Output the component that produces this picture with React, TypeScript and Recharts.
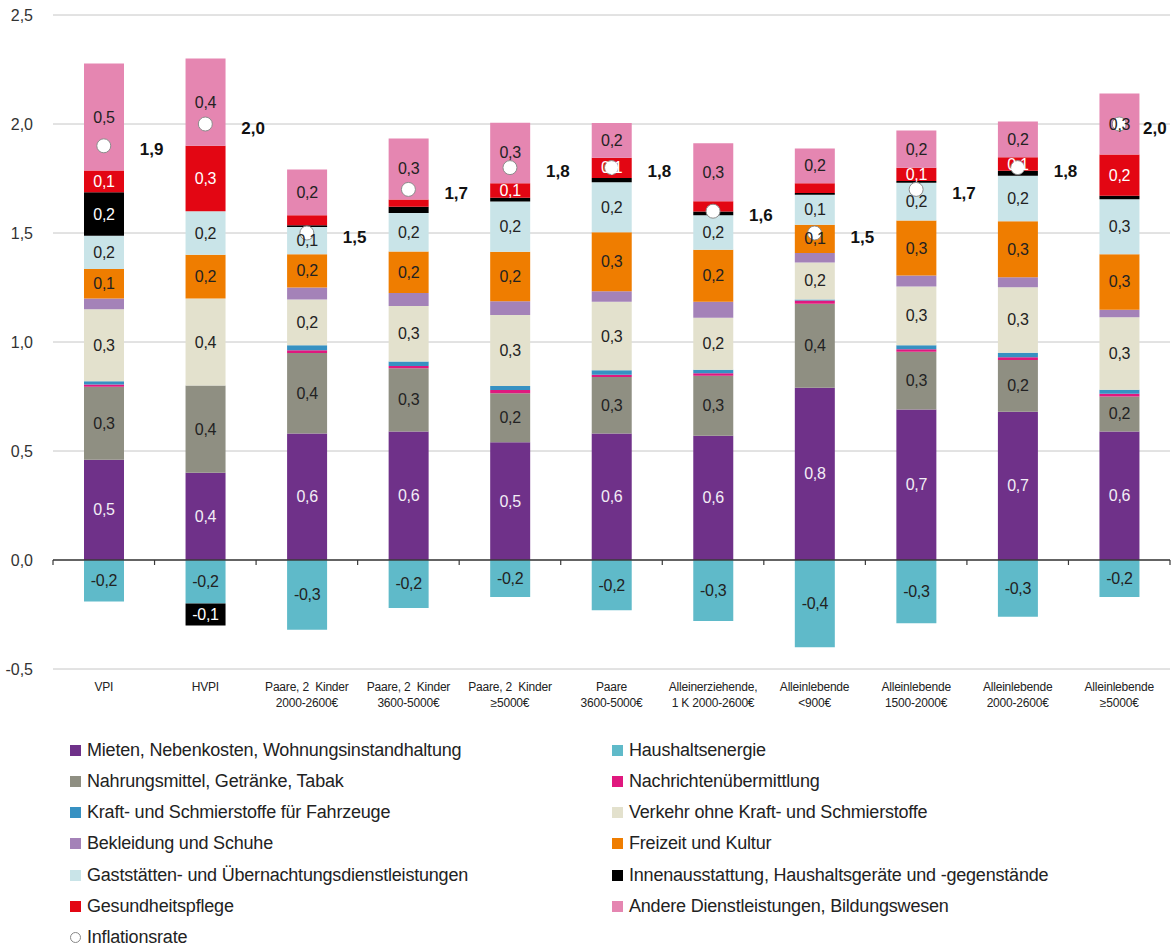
import React from "react";
import {
  ComposedChart,
  Bar,
  Line,
  XAxis,
  YAxis,
  CartesianGrid,
  ReferenceLine,
  LabelList,
} from "recharts";

document.body.style.margin = "0";

const NARROW = '"Liberation Sans Narrow", "Arial Narrow", "Liberation Sans", Arial, sans-serif';
const SANS = '"Liberation Sans", Arial, sans-serif';

const categories = [
  "VPI",
  "HVPI",
  "Paare, 2  Kinder\n2000-2600€",
  "Paare, 2  Kinder\n3600-5000€",
  "Paare, 2  Kinder\n≥5000€",
  "Paare\n3600-5000€",
  "Alleinerziehende,\n1 K 2000-2600€",
  "Alleinlebende\n<900€",
  "Alleinlebende\n1500-2000€",
  "Alleinlebende\n2000-2600€",
  "Alleinlebende\n≥5000€",
];

const mieten = [0.46, 0.4, 0.58, 0.59, 0.54, 0.58, 0.57, 0.79, 0.69, 0.68, 0.59];
const nahrung = [0.335, 0.4, 0.37, 0.29, 0.225, 0.26, 0.275, 0.385, 0.265, 0.237, 0.16];
const nachricht = [0.01, 0, 0.012, 0.01, 0.015, 0.01, 0.012, 0.015, 0.012, 0.013, 0.013];
const kraft = [0.015, 0, 0.023, 0.02, 0.018, 0.02, 0.016, 0.005, 0.018, 0.021, 0.018];
const verkehr = [0.33, 0.4, 0.21, 0.255, 0.326, 0.315, 0.238, 0.17, 0.27, 0.3, 0.332];
const bekleidung = [0.05, 0, 0.055, 0.06, 0.063, 0.048, 0.074, 0.043, 0.05, 0.046, 0.035];
const freizeit = [0.135, 0.2, 0.152, 0.19, 0.227, 0.27, 0.238, 0.13, 0.252, 0.257, 0.255];
const gaststaetten = [0.152, 0.2, 0.126, 0.177, 0.23, 0.23, 0.158, 0.137, 0.174, 0.209, 0.252];
const energie = [-0.19, -0.2, -0.32, -0.22, -0.17, -0.23, -0.28, -0.4, -0.29, -0.26, -0.17];
const innen = [0.2, -0.1, 0.008, 0.028, 0.018, 0.019, 0.018, 0.008, 0.008, 0.023, 0.016];
const gesundheit = [0.1, 0.3, 0.045, 0.034, 0.066, 0.093, 0.047, 0.045, 0.06, 0.061, 0.189];
const andere = [0.49, 0.4, 0.21, 0.28, 0.278, 0.16, 0.266, 0.16, 0.171, 0.164, 0.28];
const inflation = [1.9, 2.0, 1.5, 1.7, 1.8, 1.8, 1.6, 1.5, 1.7, 1.8, 2.0];

const yTicks = [-0.5, 0, 0.5, 1, 1.5, 2, 2.5];

// stacking order, bottom to top
const series = [
  { key: "mieten", name: "Mieten, Nebenkosten, Wohnungsinstandhaltung", values: mieten, color: "#6f3189", text: "#f3eef6", labels: true },
  { key: "nahrung", name: "Nahrungsmittel, Getränke, Tabak", values: nahrung, color: "#8f8f82", text: "#222", labels: true },
  { key: "nachricht", name: "Nachrichtenübermittlung", values: nachricht, color: "#e0187e", text: "#222", labels: false },
  { key: "kraft", name: "Kraft- und Schmierstoffe für Fahrzeuge", values: kraft, color: "#3791c2", text: "#222", labels: false },
  { key: "verkehr", name: "Verkehr ohne Kraft- und Schmierstoffe", values: verkehr, color: "#e3e1cd", text: "#222", labels: true },
  { key: "bekleidung", name: "Bekleidung und Schuhe", values: bekleidung, color: "#a482b8", text: "#222", labels: false },
  { key: "freizeit", name: "Freizeit und Kultur", values: freizeit, color: "#ef7d00", text: "#222", labels: true },
  { key: "gaststaetten", name: "Gaststätten- und Übernachtungsdienstleistungen", values: gaststaetten, color: "#c9e4e8", text: "#222", labels: true },
  { key: "energie", name: "Haushaltsenergie", values: energie, color: "#5fbac9", text: "#222", labels: true },
  { key: "innen", name: "Innenausstattung, Haushaltsgeräte und -gegenstände", values: innen, color: "#000000", text: "#fff", labels: true },
  { key: "gesundheit", name: "Gesundheitspflege", values: gesundheit, color: "#e30613", text: "#fff", labels: true },
  { key: "andere", name: "Andere Dienstleistungen, Bildungswesen", values: andere, color: "#e586b1", text: "#222", labels: true },
];

const legendOrder = [
  ["mieten", "energie"],
  ["nahrung", "nachricht"],
  ["kraft", "verkehr"],
  ["bekleidung", "freizeit"],
  ["gaststaetten", "innen"],
  ["gesundheit", "andere"],
];

const data = categories.map((name, i) => {
  const row: Record<string, any> = { name, inflation: inflation[i] };
  series.forEach((s) => (row[s.key] = s.values[i]));
  return row;
});

const fmt = (v: number) => (Math.round(v * 10) / 10).toFixed(1).replace(".", ",");

const segmentLabel = (values: number[], color: string) => (props: any) => {
  const { x, y, width, height, index } = props;
  const v = values[index];
  if (v == null || Math.abs(v) < 0.05) return null;
  return (
    <text
      x={x + width / 2}
      y={y + height / 2}
      textAnchor="middle"
      dominantBaseline="central"
      fill={color}
      fontSize={16}
      fontFamily={NARROW}
      letterSpacing={-0.3}
    >
      {fmt(v)}
    </text>
  );
};

const inflationLabel = (props: any) => {
  const { x, y, index } = props;
  return (
    <text
      x={Math.min(x + 36, 1143)}
      y={y + 4}
      dominantBaseline="central"
      fontSize={17}
      fontWeight="bold"
      fontFamily={SANS}
      fill="#111"
    >
      {fmt(inflation[index])}
    </text>
  );
};

const CategoryTick = (props: any) => {
  const { x, y, payload } = props;
  const lines = String(payload.value).split("\n");
  return (
    <text x={x} y={y} textAnchor="middle" fontSize={12} fontFamily={NARROW} fill="#222" letterSpacing={-0.2}>
      {lines.map((l, i) => (
        <tspan key={i} x={x} dy={i === 0 ? 14 : 16} style={{ whiteSpace: "pre" }}>
          {l}
        </tspan>
      ))}
    </text>
  );
};

const ZeroAxis = (props: any) => {
  const { x1, y1, x2 } = props;
  const n = categories.length;
  const step = (x2 - x1) / n;
  return (
    <g>
      <line x1={x1} y1={y1} x2={x2} y2={y1} stroke="#3a3a3a" strokeWidth={1.5} />
      {Array.from({ length: n + 1 }, (_, i) => (
        <line key={i} x1={x1 + i * step} x2={x1 + i * step} y1={y1} y2={y1 + 5} stroke="#3a3a3a" strokeWidth={1.2} />
      ))}
    </g>
  );
};

function Legend() {
  const byKey = Object.fromEntries(series.map((s) => [s.key, s]));
  const rowTop = 739;
  const rowStep = 31.3;
  const colX = [70, 612];
  const item = (left: number, top: number, marker: React.ReactNode, label: string, k: string) => (
    <div
      key={k}
      style={{
        position: "absolute",
        left,
        top,
        height: 22,
        display: "flex",
        alignItems: "center",
        fontFamily: NARROW,
        fontSize: 18,
        letterSpacing: -0.2,
        color: "#222",
        whiteSpace: "nowrap",
      }}
    >
      {marker}
      <span style={{ marginLeft: 6 }}>{label}</span>
    </div>
  );
  const items: React.ReactNode[] = [];
  legendOrder.forEach((row, r) =>
    row.forEach((key, c) => {
      const s = byKey[key];
      items.push(
        item(
          colX[c],
          rowTop + r * rowStep,
          <span style={{ display: "inline-block", width: 11, height: 11, background: s.color }} />,
          s.name,
          key
        )
      );
    })
  );
  items.push(
    item(
      colX[0],
      rowTop + 6 * rowStep,
      <span
        style={{
          display: "inline-block",
          width: 9,
          height: 9,
          borderRadius: "50%",
          border: "1px solid #888",
          background: "#fff",
        }}
      />,
      "Inflationsrate",
      "inflation"
    )
  );
  return <>{items}</>;
}

export default function App() {
  return (
    <div style={{ position: "relative", width: 1172, height: 946, background: "#fff" }}>
      <ComposedChart
        width={1172}
        height={716}
        data={data}
        stackOffset="sign"
        margin={{ top: 15, right: 2, bottom: 0, left: 0 }}
      >
        <CartesianGrid vertical={false} stroke="#c6c6c6" />
        <XAxis
          dataKey="name"
          axisLine={false}
          tickLine={false}
          interval={0}
          height={47}
          tick={<CategoryTick />}
        />
        <YAxis
          type="number"
          domain={[-0.5, 2.5]}
          ticks={yTicks}
          width={53}
          axisLine={false}
          tickLine={false}
          tickFormatter={fmt}
          tick={{ fontSize: 16, fill: "#333", fontFamily: SANS }}
          tickMargin={14}
        />
        {series.map((s) => (
          <Bar
            key={s.key}
            dataKey={s.key}
            name={s.name}
            stackId="a"
            fill={s.color}
            barSize={40}
            isAnimationActive={false}
          >
            {s.labels && <LabelList dataKey={s.key} content={segmentLabel(s.values, s.text)} />}
          </Bar>
        ))}
        <ReferenceLine y={0} shape={<ZeroAxis />} />
        <Line
          dataKey="inflation"
          name="Inflationsrate"
          stroke="none"
          isAnimationActive={false}
          dot={{ r: 7, fill: "#fff", stroke: "#8c8c8c", strokeWidth: 1 }}
          activeDot={false}
        >
          <LabelList dataKey="inflation" content={inflationLabel} />
        </Line>
      </ComposedChart>
      <Legend />
    </div>
  );
}
